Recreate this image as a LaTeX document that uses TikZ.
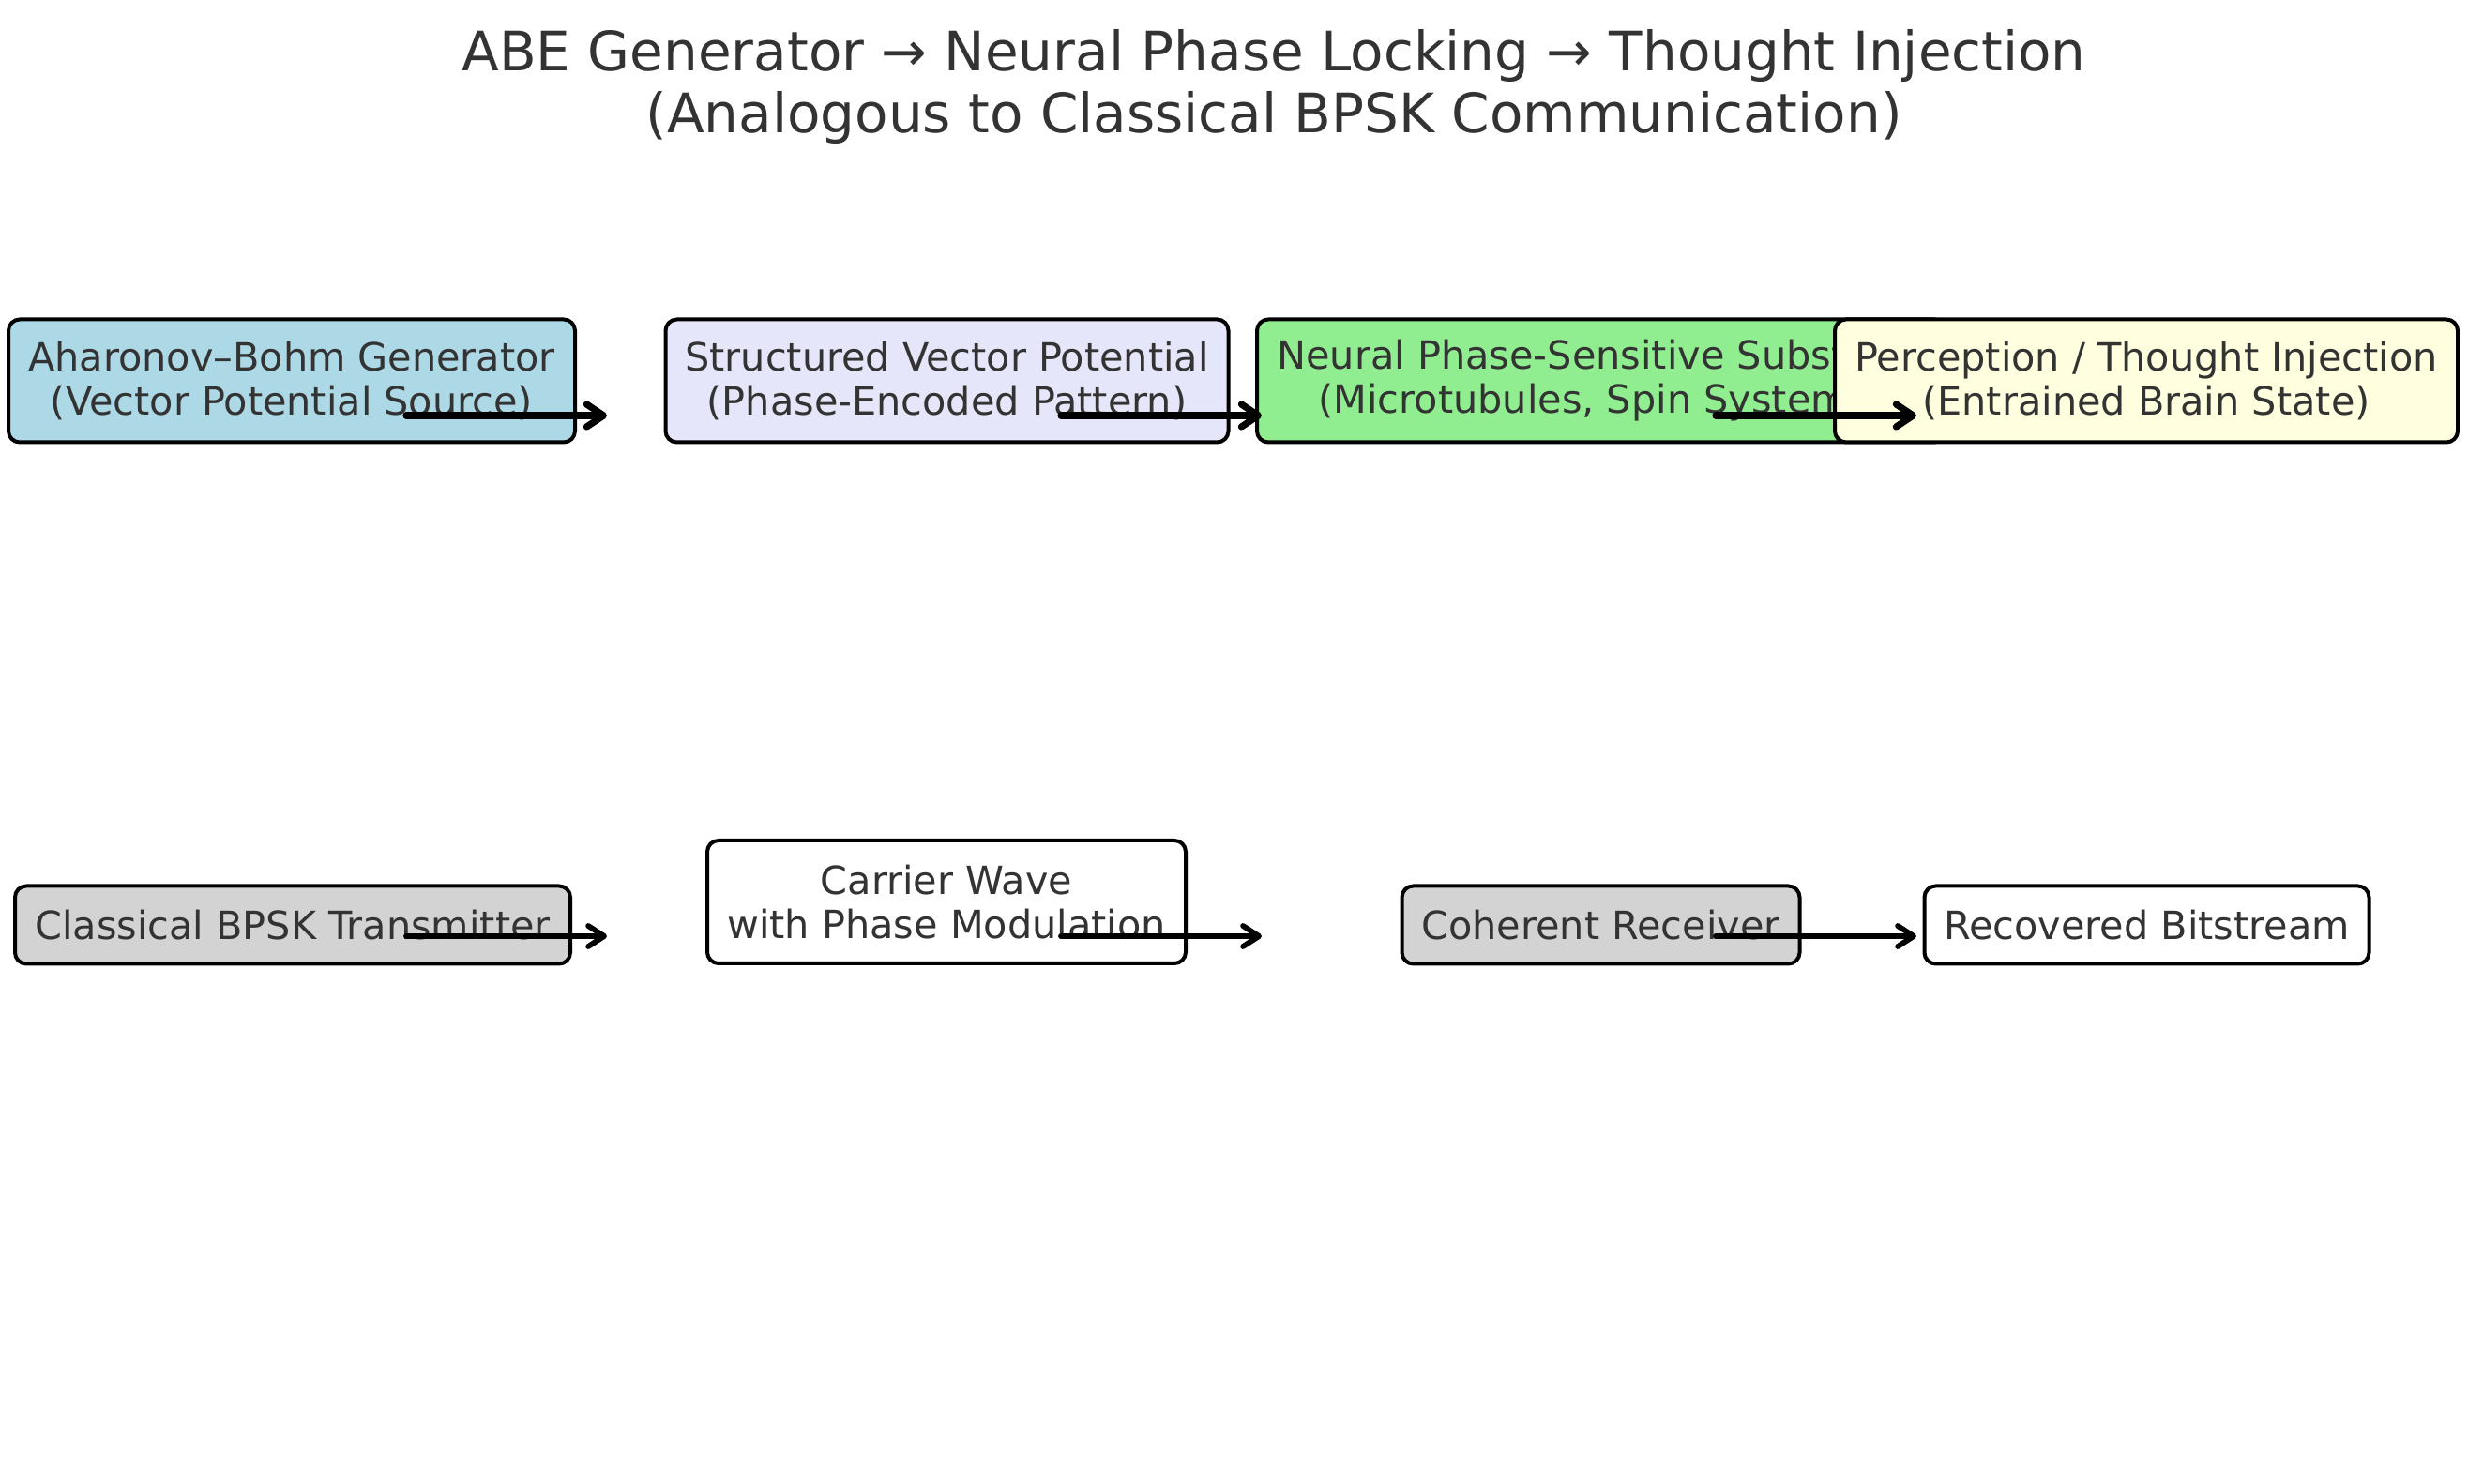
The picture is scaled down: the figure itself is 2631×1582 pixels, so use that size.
\documentclass[tikz,border=0pt]{standalone}
\usepackage{fontspec}
\setmainfont{DejaVu Sans}
\usetikzlibrary{arrows.meta}
\definecolor{txt}{HTML}{333333}
\definecolor{lblue}{HTML}{ADD8E6}
\definecolor{lav}{HTML}{E6E6FA}
\definecolor{lgreen}{HTML}{90EE90}
\definecolor{lyellow}{HTML}{FFFFE0}
\definecolor{lgray}{HTML}{D3D3D3}
\begin{document}
\begin{tikzpicture}[x=0.5pt,y=-0.5pt,
  box/.style={draw=black, line width=2pt, rounded corners=6pt, inner sep=0pt,
    align=center, text=txt, font=\fontsize{20.7}{23.5}\selectfont},
  arrtop/.style={line width=3.6pt, line cap=round,
    -{Straight Barb[length=9pt,width=12pt,line width=3.6pt,round]}},
  arrbot/.style={line width=2.9pt, line cap=round,
    -{Straight Barb[length=8.5pt,width=11pt,line width=2.9pt,round]}}]
\useasboundingbox (0,0) rectangle (2631,1582);
\fill[white] (0,0) rectangle (2631,1582);

\node[text=txt, align=center, font=\fontsize{29}{33}\selectfont] (title) at (1358,93)
  {ABE Generator → Neural Phase Locking → Thought Injection\\(Analogous to Classical BPSK Communication)};

% top row
\node[box, fill=lblue, minimum width=302pt, minimum height=65.5pt] (abg) at (311,406)
  {Aharonov–Bohm Generator\\(Vector Potential Source)};
\node[box, fill=lav, minimum width=300pt, minimum height=65.5pt] (svp) at (1009.5,406)
  {Structured Vector Potential\\(Phase-Encoded Pattern)};
\node[box, fill=lgreen, minimum width=367pt, minimum height=65.5pt] (nps) at (1707,406)
  {Neural Phase-Sensitive Substrate\\(Microtubules, Spin Systems)};
\node[box, fill=lyellow, minimum width=332pt, minimum height=65.5pt] (pti) at (2288,406)
  {Perception / Thought Injection\\(Entrained Brain State)};

% bottom row
\node[box, fill=lgray, minimum width=296pt, minimum height=41.5pt] (tx) at (312,986)
  {Classical BPSK Transmitter};
\node[box, fill=white, minimum width=255pt, minimum height=65.5pt] (cw) at (1009,961.5)
  {Carrier Wave\\with Phase Modulation};
\node[box, fill=lgray, minimum width=212pt, minimum height=41.5pt] (rx) at (1706.5,986)
  {Coherent Receiver};
\node[box, fill=white, minimum width=237pt, minimum height=41.5pt] (bits) at (2288.5,986)
  {Recovered Bitstream};

% arrow end points
\coordinate (s1) at (433,443);  \coordinate (t1) at (647,443);
\coordinate (s2) at (1131,443); \coordinate (t2) at (1345,443);
\coordinate (s3) at (1829,443); \coordinate (t3) at (2043,443);
\coordinate (s4) at (433,998);  \coordinate (t4) at (647,998);
\coordinate (s5) at (1131,998); \coordinate (t5) at (1345,998);
\coordinate (s6) at (1829,998); \coordinate (t6) at (2043,998);

\draw[arrtop] (s1) -- (t1);
\draw[arrtop] (s2) -- (t2);
\draw[arrtop] (s3) -- (t3);
\draw[arrbot] (s4) -- (t4);
\draw[arrbot] (s5) -- (t5);
\draw[arrbot] (s6) -- (t6);
\end{tikzpicture}
\end{document}
